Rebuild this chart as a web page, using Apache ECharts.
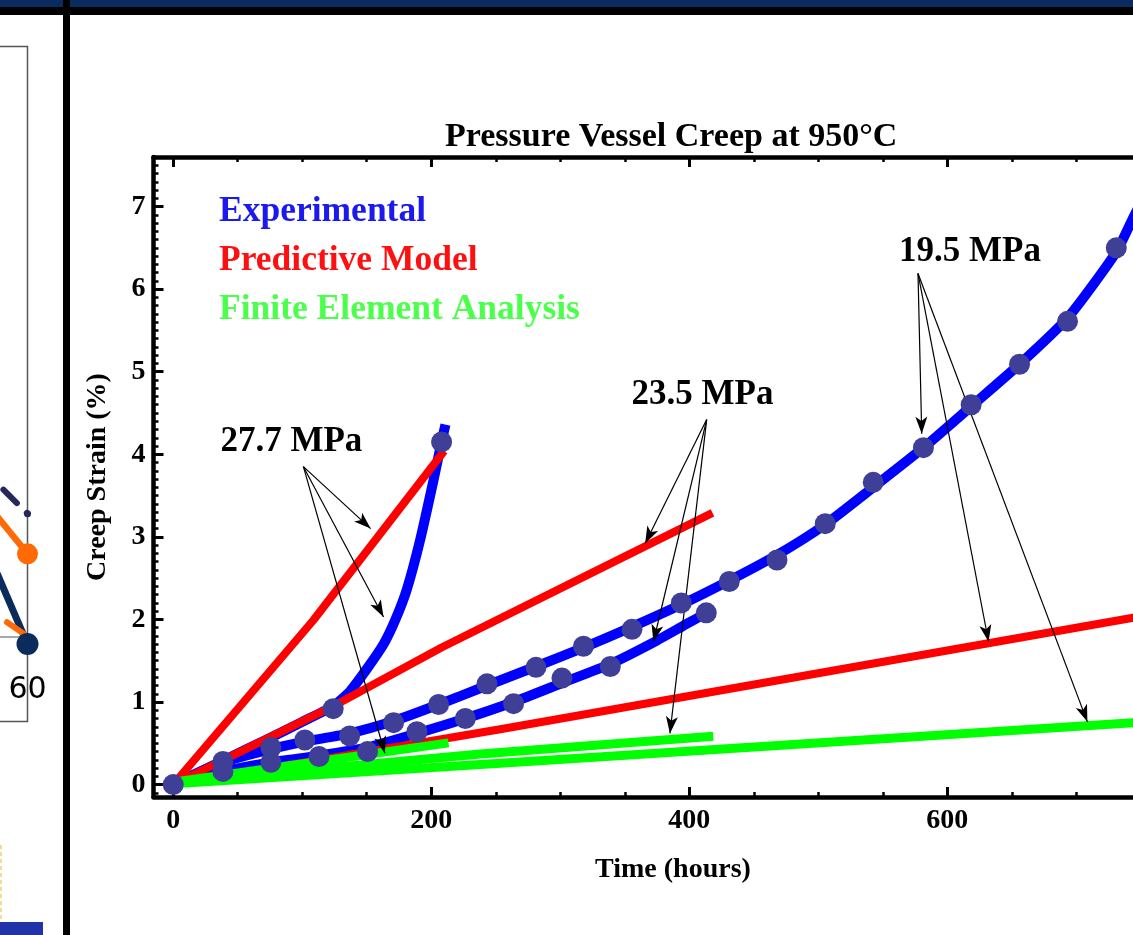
<!DOCTYPE html>
<html>
<head>
<meta charset="utf-8">
<script src="https://cdn.jsdelivr.net/npm/echarts@6/dist/echarts.min.js"></script>
<style>
html,body{margin:0;padding:0;overflow:hidden;background:#fff;width:1133px;height:935px;}
#c{position:absolute;left:0;top:0;width:1400px;height:935px;}
</style>
</head>
<body>
<div id="c"></div>
<script>
// ---------- main chart data (Time in hours, Creep strain in %) ----------
const exp277Line = [[0,0],[38.5,0.29],[75.7,0.57],[100,0.76],[124,0.95],[137,1.13],[150,1.40],[163,1.70],[172,1.99],[181,2.36],[191.5,2.97],[201.8,3.69],[208,4.15],[211,4.36]];
const exp277Pts  = [[0,0],[124,0.92],[208,4.15]];
const exp235Line = [[0,0],[38.5,0.16],[75.7,0.27],[113,0.35],[150.6,0.45],[188.9,0.62],[226.4,0.8],[263.8,1.0],[301.3,1.23],[338.8,1.46],[372,1.72],[395,1.92],[413.2,2.08],[418,2.15]];
const exp235Pts  = [[38.5,0.16],[75.7,0.27],[113,0.34],[150.6,0.40],[188.9,0.64],[226.4,0.80],[263.8,0.98],[301.3,1.29],[338.8,1.43],[413.2,2.08]];
const exp195Line = [[0,0],[38.5,0.27],[75.7,0.43],[102,0.52],[136.7,0.62],[170.8,0.77],[205.7,0.97],[243.2,1.2],[281.2,1.43],[318,1.66],[355.6,1.91],[393.8,2.18],[431,2.47],[468,2.78],[505.4,3.15],[542.6,3.6],[581.5,4.08],[618.5,4.58],[656,5.09],[693.2,5.65],[731,6.45],[744,6.86],[760,7.35],[776,7.85]];
const exp195Pts  = [[38.5,0.28],[75.7,0.45],[102,0.54],[136.7,0.59],[170.8,0.75],[205.7,0.97],[243.2,1.22],[281.2,1.42],[318,1.675],[355.6,1.88],[393.8,2.2],[431,2.46],[468,2.72],[505.4,3.16],[542.6,3.66],[581.5,4.08],[618.5,4.6],[656,5.09],[693.2,5.61],[731,6.5]];

const pred277 = [[0,0],[108.6,1.99],[210,4.04]];
const pred235 = [[0,0],[124,0.95],[208,1.66],[418,3.29]];
const pred195 = [[0,0],[253.5,0.67],[744,2.02],[790,2.15]];

const fea277 = [[0,0.03],[213.4,0.505]];
const fea235 = [[0,0.03],[238,0.37],[418.6,0.585]];
const fea195 = [[0,0.01],[253.5,0.26],[744,0.75],[790,0.8]];

const legendNames = ['Experimental','Predictive Model','Finite Element Analysis'];
const legendColors = ['#1a1aee','#ff1010','#4dff4d'];

const labelNames = ['27.7 MPa','23.5 MPa','19.5 MPa'];
const labelPos   = [[91.6,4.15],[410.2,4.72],[617.6,6.45]];
const arrowFrom  = [[100.9,3.85],[413.5,4.42],[577.3,6.19]];
const arrowTo    = [
  [[153,3.1],[163,2.03],[164,0.38]],
  [[365.8,2.92],[372.2,1.73],[385,0.62]],
  [[580.2,4.25],[632,1.73],[708.6,0.76]]
];

// ---------- cropped neighbouring chart (left edge) ----------
const leftNavy       = [[50,20.3],[60,-1.2]];
const leftOrange     = [[50,25.5],[60,14.1]];
const leftNavyDash   = [[50,30.1],[60,20.9]];
const leftOrangeDash = [[50,6.5],[60,0.1]];
const leftNavyDot    = [[60,-1.2]];
const leftOrangeDot  = [[60,14.1]];
const leftSmallDot   = [[60,20.9]];

const serif = 'Liberation Serif, Times New Roman, serif';

function line(name, data, color, width, smooth) {
  return {type:'line', name, data, xAxisIndex:0, yAxisIndex:0, symbol:'none',
    smooth: smooth, silent:true,
    lineStyle:{color, width, cap:'butt', join:'round'}, itemStyle:{color}};
}

const arrows = [];
arrowTo.forEach((tips, i) => tips.forEach(t => arrows.push([{coord: arrowFrom[i]}, {coord: t}])));

const mainTick = {inside:true, length:10, lineStyle:{color:'#000', width:3}};
const mainMinorX = {show:true, splitNumber:4, length:5, lineStyle:{color:'#000', width:2.5}};
const mainMinorY = {show:true, splitNumber:10, length:5, lineStyle:{color:'#000', width:2.5}};
const mainLine = {show:true, onZero:false, lineStyle:{color:'#000', width:4.5}};
const tickFont = {fontFamily:serif, fontWeight:'bold', fontSize:28, color:'#000'};

const chart = echarts.init(document.getElementById('c'), null, {renderer:'canvas'});
chart.setOption({
  animation:false,
  backgroundColor:'#fff',
  title:{text:'Pressure Vessel Creep at 950°C', left:440, top:115,
    textStyle:{fontFamily:serif, fontWeight:'bold', fontSize:34, color:'#000'}},
  legend:{orient:'vertical', left:209, top:188, itemGap:12, itemWidth:0, itemHeight:0, icon:'none',
    selectedMode:false,
    data: legendNames.map((n,i)=>({name:n, textStyle:{color:legendColors[i]}})),
    textStyle:{fontFamily:serif, fontWeight:'bold', fontSize:35.5, lineHeight:37}},
  grid:[
    {left:153.5, right:207.6, top:157, bottom:138, outerBoundsMode:'none'},
    {left:-300, right:1372.5, top:47, bottom:298, outerBoundsMode:'none'}
  ],
  xAxis:[
    {type:'value', gridIndex:0, min:-15.3, max:790, splitNumber:4, position:'bottom',
     axisLine:mainLine, axisTick:mainTick, minorTick:mainMinorX, splitLine:{show:false},
     axisLabel:Object.assign({margin:10, formatter:v => (Math.abs(v % 200) < 1e-9 ? String(v) : '')}, tickFont),
     name:'Time (hours)', nameLocation:'middle', nameGap:59, nameTextStyle:tickFont},
    {type:'value', gridIndex:0, min:-15.3, max:790, splitNumber:4, position:'top',
     axisLine:mainLine, axisTick:mainTick, minorTick:mainMinorX, splitLine:{show:false}, axisLabel:{show:false}},
    {type:'value', gridIndex:1, min:0, max:60, interval:10,
     axisLine:{show:true, onZero:false, lineStyle:{color:'#8c8c8c', width:1.5}}, axisTick:{show:false}, splitLine:{show:false},
     axisLabel:{margin:38, fontFamily:'DejaVu Sans', fontSize:30, color:'#000', formatter:v => (v === 60 ? '60' : '')}}
  ],
  yAxis:[
    {type:'value', gridIndex:0, min:-0.15, max:7.6, splitNumber:8, position:'left',
     axisLine:mainLine, axisTick:mainTick, minorTick:mainMinorY, splitLine:{show:false},
     axisLabel:Object.assign({margin:8, formatter:v => (Number.isInteger(v) ? String(v) : '')}, tickFont),
     name:'Creep Strain (%)', nameLocation:'middle', nameGap:42, nameRotate:90, nameTextStyle:tickFont},
    {type:'value', gridIndex:0, min:-0.15, max:7.6, splitNumber:8, position:'right',
     axisLine:mainLine, axisTick:mainTick, minorTick:mainMinorY, splitLine:{show:false}, axisLabel:{show:false}},
    {type:'value', gridIndex:1, min:0, max:100, show:false}
  ],
  series:[
    line('Experimental', exp277Line, '#0000ff', 10, 0.2),
    line('Experimental', exp235Line, '#0000ff', 10, 0.2),
    line('Experimental', exp195Line, '#0000ff', 10, 0.2),
    line('Predictive Model', pred277, '#ff0000', 8, false),
    line('Predictive Model', pred235, '#ff0000', 8, false),
    line('Predictive Model', pred195, '#ff0000', 8, false),
    line('Finite Element Analysis', fea277, '#00ff00', 9, false),
    line('Finite Element Analysis', fea235, '#00ff00', 9, false),
    line('Finite Element Analysis', fea195, '#00ff00', 9, false),
    {type:'scatter', name:'Experimental', xAxisIndex:0, yAxisIndex:0, silent:true,
     data: exp277Pts.concat(exp235Pts, exp195Pts), symbol:'circle', symbolSize:21,
     itemStyle:{color:'#3f3f97', opacity:1}, z:5},
    {type:'scatter', name:'labels', xAxisIndex:0, yAxisIndex:0, silent:true, symbolSize:1,
     data: labelNames.map((n,i)=>({name:n, value:labelPos[i]})),
     itemStyle:{color:'#ffffff', opacity:1},
     label:{show:true, position:'inside', formatter:'{b}', fontFamily:serif, fontWeight:'bold', fontSize:35, color:'#000', opacity:1},
     markLine:{silent:true, symbol:['none','arrow'], symbolSize:[9,17], label:{show:false},
       lineStyle:{color:'#000', width:1.2, type:'solid', opacity:1}, emphasis:{disabled:true}, data:arrows},
     z:8},
    // neighbouring chart fragment
    {type:'line', xAxisIndex:2, yAxisIndex:2, data:leftNavy, symbol:'none', clip:false, silent:true,
     lineStyle:{color:'#0b2b5c', width:7}},
    {type:'line', xAxisIndex:2, yAxisIndex:2, data:leftOrange, symbol:'none', clip:false, silent:true,
     lineStyle:{color:'#ff6a06', width:6.5}},
    {type:'line', xAxisIndex:2, yAxisIndex:2, data:leftNavyDash, symbol:'none', clip:false, silent:true,
     lineStyle:{color:'#26285b', width:6, type:[19,14], dashOffset:23, cap:'round'}},
    {type:'line', xAxisIndex:2, yAxisIndex:2, data:leftOrangeDash, symbol:'none', clip:false, silent:true,
     lineStyle:{color:'#ff6a06', width:6, type:[20,14], dashOffset:26.5, cap:'round'}},
    {type:'scatter', xAxisIndex:2, yAxisIndex:2, data:leftOrangeDot, symbolSize:21, clip:false, silent:true,
     itemStyle:{color:'#ff6a06', opacity:1}, z:5},
    {type:'scatter', xAxisIndex:2, yAxisIndex:2, data:leftNavyDot, symbolSize:22, clip:false, silent:true,
     itemStyle:{color:'#0b2b5c', opacity:1}, z:5},
    {type:'scatter', xAxisIndex:2, yAxisIndex:2, data:leftSmallDot, symbolSize:7, clip:false, silent:true,
     itemStyle:{color:'#26285b', opacity:1}, z:5}
  ],
  graphic:[
    {type:'rect', z:-10, shape:{x:-5, y:46.5, width:32.5, height:675}, style:{fill:'none', stroke:'#555', lineWidth:1.5}},
    {type:'rect', z:100, shape:{x:0, y:0, width:1400, height:7}, style:{fill:'#0a2b5e'}},
    {type:'rect', z:100, shape:{x:0, y:7, width:1400, height:8}, style:{fill:'#000'}},
    {type:'rect', z:100, shape:{x:63, y:0, width:7, height:935}, style:{fill:'#000'}},
    {type:'rect', z:100, shape:{x:0, y:922, width:43, height:13}, style:{fill:'#2233aa'}},
    {type:'line', z:100, shape:{x1:1, y1:845, x2:1, y2:922}, style:{stroke:'#f0d070', lineWidth:1.5, lineDash:[4,3]}}
  ]
});
</script>
</body>
</html>
